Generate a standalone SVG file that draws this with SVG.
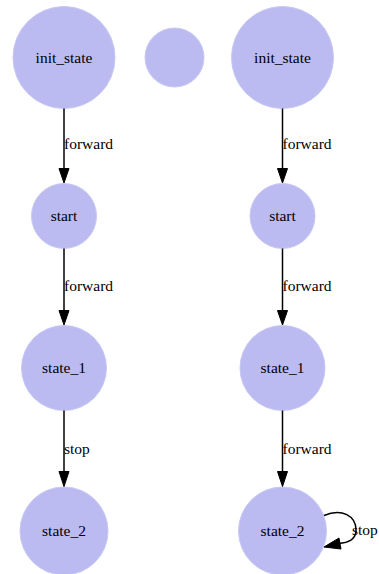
<svg xmlns="http://www.w3.org/2000/svg" width="379" height="574" viewBox="0 0 379 574">
  <style>
    .node circle { fill: #bbbbf1; stroke: #c8c8f4; stroke-width: 1; }
    text { font-family: "Liberation Serif", "Times New Roman", "DejaVu Serif", serif; font-size: 15.5px; fill: #000; }
    .node text { text-anchor: middle; }
    .edge { stroke: #000; stroke-width: 1.5; fill: none; }
    .head { fill: #000; stroke: #000; stroke-width: 1; }
  </style>
  <rect width="379" height="574" fill="#fff"/>

  <!-- left machine -->
  <g id="l_init_state" class="node"><circle cx="64" cy="57.5" r="51"/><text x="64" y="62.5">init_state</text></g>
  <g id="l_start" class="node"><circle cx="64" cy="216" r="32.5"/><text x="64" y="221">start</text></g>
  <g id="l_state_1" class="node"><circle cx="64" cy="368" r="42.5"/><text x="64" y="373">state_1</text></g>
  <g id="l_state_2" class="node"><circle cx="64" cy="531" r="44"/><text x="64" y="536">state_2</text></g>

  <!-- isolated node -->
  <g id="blank" class="node"><circle cx="174.5" cy="57.5" r="29.5"/></g>

  <!-- right machine -->
  <g id="r_init_state" class="node"><circle cx="282.5" cy="57.5" r="51"/><text x="282.5" y="62.5">init_state</text></g>
  <g id="r_start" class="node"><circle cx="282.5" cy="216" r="32.5"/><text x="282.5" y="221">start</text></g>
  <g id="r_state_1" class="node"><circle cx="282.5" cy="368" r="42.5"/><text x="282.5" y="373">state_1</text></g>
  <g id="r_state_2" class="node"><circle cx="282.5" cy="531" r="44"/><text x="282.5" y="536">state_2</text></g>

  <g id="connectors">
    <!-- left -->
    <path class="edge" d="M64,108.5 V169"/>
    <path class="head" d="M59,168.5 L69,168.5 L64,183 Z"/>
    <text x="64" y="149">forward</text>

    <path class="edge" d="M64,248.5 V311"/>
    <path class="head" d="M59,310.5 L69,310.5 L64,325 Z"/>
    <text x="64" y="291">forward</text>

    <path class="edge" d="M64,410.5 V472"/>
    <path class="head" d="M59,471.5 L69,471.5 L64,486.5 Z"/>
    <text x="64" y="454">stop</text>

    <!-- right -->
    <path class="edge" d="M282.5,108.5 V169"/>
    <path class="head" d="M277.5,168.5 L287.5,168.5 L282.5,183 Z"/>
    <text x="282.5" y="149">forward</text>

    <path class="edge" d="M282.5,248.5 V311"/>
    <path class="head" d="M277.5,310.5 L287.5,310.5 L282.5,325 Z"/>
    <text x="282.5" y="291">forward</text>

    <path class="edge" d="M282.5,410.5 V472"/>
    <path class="head" d="M277.5,471.5 L287.5,471.5 L282.5,486.5 Z"/>
    <text x="282.5" y="454">forward</text>

    <!-- self loop on state_2 -->
    <path class="edge" d="M324,515.5 C342,508 356,516 356,530 C356,540 348,543 338,543.5"/>
    <path class="head" d="M339,538 L341,549 L324,547 Z"/>
    <text x="352" y="535">stop</text>
  </g>
</svg>
